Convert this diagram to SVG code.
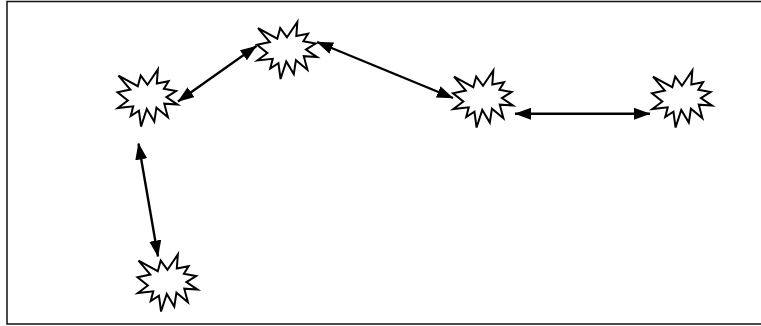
<svg xmlns="http://www.w3.org/2000/svg" xmlns:xlink="http://www.w3.org/1999/xlink" width="761" height="326" viewBox="0 0 761 326">
<style>
.seal{fill:#fff;stroke:#000;stroke-width:2;stroke-linejoin:miter}
.conn{stroke:#000;stroke-width:2.4;fill:none;marker-start:url(#ah);marker-end:url(#ah)}
.frame{fill:#fff;stroke:#111;stroke-width:1.5}
</style>
<defs>
<path id="seal" class="seal" d="M30,15.31 L40.34,0 L39.32,14.05 L51.06,11.76 L46.39,19.3 L58.6,21.47 L48.91,27.64 L60,35.07 L46.77,34.15 L50.4,47.75 L38.94,38.15 L36.8,52.08 L29.26,39.41 L23.57,57 L21.43,41.24 L13.23,46.49 L15.74,36.78 L0.38,38.49 L10.34,31.07 L0,22.73 L12.85,20.1 L1.03,6.06 L20.31,16.68 L23.2,6.06 Z"/>
<marker id="ah" markerUnits="userSpaceOnUse" markerWidth="17" markerHeight="13" refX="16" refY="6" orient="auto-start-reverse" viewBox="0 0 17 13">
<path d="M0,0 L16.5,6 L0,12 Z" fill="#000"/>
</marker>
</defs>
<rect class="frame" x="7" y="1.5" width="756" height="322.5"/>
<g id="connectors">
<line class="conn" x1="178" y1="101.5" x2="256.5" y2="46"/>
<line class="conn" x1="317" y1="42" x2="453" y2="98"/>
<line class="conn" x1="515" y1="113.8" x2="650" y2="113.8"/>
<line class="conn" x1="138.5" y1="143.5" x2="158" y2="256.5"/>
</g>
<g id="node1" transform="translate(117.5,69.5)"><use xlink:href="#seal"/></g>
<g id="node2" transform="translate(257,22)"><use xlink:href="#seal"/></g>
<g id="node3" transform="translate(453,70.5)"><use xlink:href="#seal"/></g>
<g id="node4" transform="translate(652,70.5)"><use xlink:href="#seal"/></g>
<g id="node5" transform="translate(137.5,254.5)"><use xlink:href="#seal"/></g>
</svg>
